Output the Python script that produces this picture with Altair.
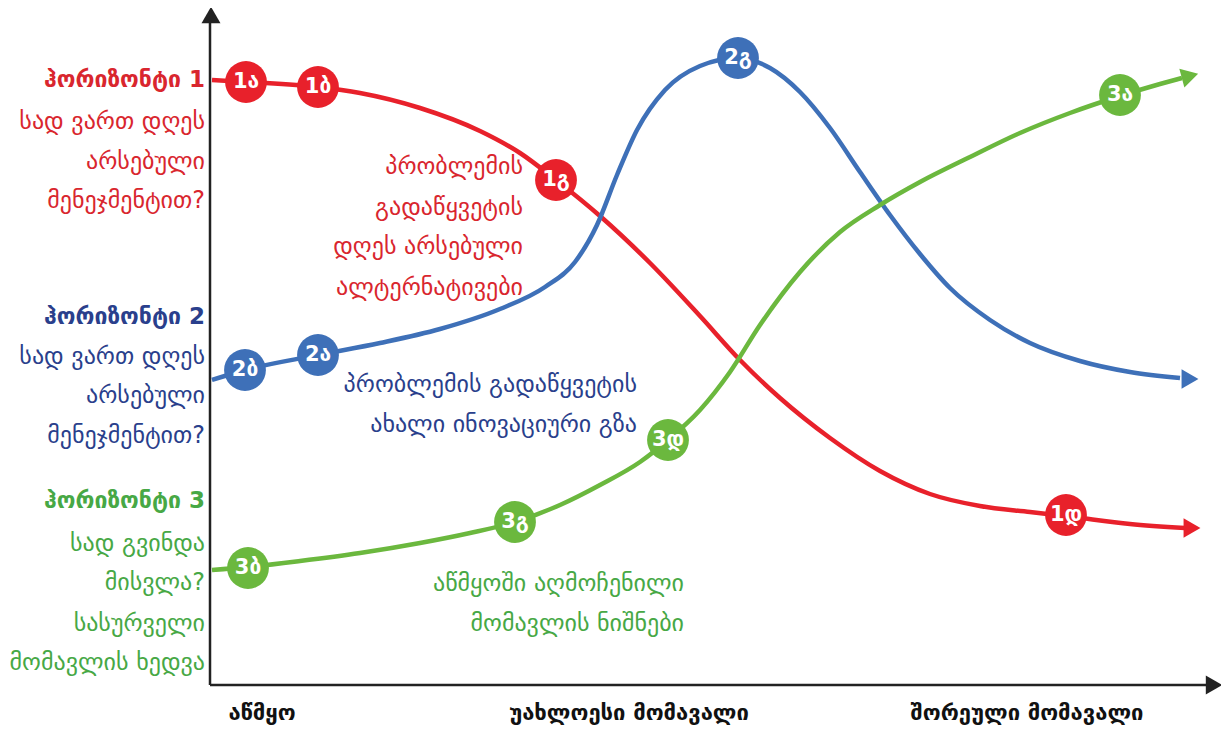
import altair as alt
import pandas as pd

# ---- data (x: time from origin, y: level above the time axis) ----
red_x = [2, 36, 108, 150, 210, 270, 310, 346, 390, 440, 490, 530, 570, 620, 670, 720, 770, 820, 856, 920, 975]
red_y = [605, 603, 598, 592, 577, 554, 532, 505, 469, 422, 369, 325, 287, 247, 214, 191, 179, 173, 169, 161, 157]
blue_x = [2, 35, 108, 170, 230, 290, 335, 365, 387, 407, 427, 455, 490, 528, 560, 590, 620, 650, 680, 710, 740, 780, 820, 870, 920, 970]
blue_y = [305, 315, 330, 342, 356, 376, 398, 423, 460, 510, 555, 595, 619, 627, 617, 593, 557, 513, 470, 431, 397, 365, 342, 324, 313, 307]
green_x = [2, 38, 90, 150, 210, 260, 305, 350, 390, 430, 458, 490, 520, 550, 590, 630, 670, 710, 760, 810, 860, 910, 950, 972]
green_y = [115, 118, 124, 132, 142, 152, 163, 180, 200, 223, 245, 275, 313, 360, 413, 453, 480, 503, 528, 552, 572, 589, 601, 607]

series_names = ["red", "blue", "green"]
series_colors = ["#E8212B", "#3E70B8", "#6BB83E"]
text_colors = ["#D9262E", "#2A3F8C", "#47A845"]

arrow_x = [982, 980, 980]
arrow_y = [157, 306, 609]
arrow_angle = [0, 0, 345]

node_labels = ["1ა", "1ბ", "1გ", "1დ", "2ბ", "2ა", "2გ", "3ბ", "3გ", "3დ", "3ა"]
node_series = ["red", "red", "red", "red", "blue", "blue", "blue", "green", "green", "green", "green"]
node_x = [36, 108, 346, 856, 35, 108, 528, 38, 305, 458, 910]
node_y = [603, 598, 505, 170, 315, 330, 627, 117, 163, 245, 590]

left_text = ["ჰორიზონტი 1", "სად ვართ დღეს", "არსებული", "მენეჯმენტით?",
             "ჰორიზონტი 2", "სად ვართ დღეს", "არსებული", "მენეჯმენტით?",
             "ჰორიზონტი 3", "სად გვინდა", "მისვლა?", "სასურველი", "მომავლის ხედვა"]
left_y = [605, 563, 523, 484, 368, 328, 289, 249, 184, 141, 102, 61, 22]
left_series = ["red"] * 4 + ["blue"] * 4 + ["green"] * 5
left_bold = [True, False, False, False, True, False, False, False, True, False, False, False, False]

mid_text = ["პრობლემის", "გადაწყვეტის", "დღეს არსებული", "ალტერნატივები",
            "პრობლემის გადაწყვეტის", "ახალი ინოვაციური გზა",
            "აწმყოში აღმოჩენილი", "მომავლის ნიშნები"]
mid_x = [313, 313, 313, 313, 427, 427, 474, 474]
mid_y = [518, 477, 438, 397, 300, 260, 101, 61]
mid_series = ["red"] * 4 + ["blue"] * 2 + ["green"] * 2

time_labels = ["აწმყო", "უახლოესი მომავალი", "შორეული მომავალი"]
time_x = [52, 419, 817]

# ---- tables ----
rows = []
for name, xs, ys in [("red", red_x, red_y), ("blue", blue_x, blue_y), ("green", green_x, green_y)]:
    for i, (a, b) in enumerate(zip(xs, ys)):
        rows.append({"s": name, "i": i, "x": a, "y": b})
lines_df = pd.DataFrame(rows)
arrows_df = pd.DataFrame({"s": series_names, "x": arrow_x, "y": arrow_y, "a": arrow_angle})
nodes_df = pd.DataFrame({"s": node_series, "t": node_labels, "x": node_x, "y": node_y})
left_df = pd.DataFrame({"s": left_series, "t": left_text, "y": left_y, "b": left_bold})
left_df["x"] = -5
mid_df = pd.DataFrame({"s": mid_series, "t": mid_text, "x": mid_x, "y": mid_y})
time_df = pd.DataFrame({"t": time_labels, "x": time_x})
time_df["y"] = -28

xs = alt.Scale(domain=[-202, 1011])
ys = alt.Scale(domain=[-46, 677])
X = alt.X("x:Q", scale=xs, axis=None)
Y = alt.Y("y:Q", scale=ys, axis=None)
col = alt.Color("s:N", scale=alt.Scale(domain=series_names, range=series_colors), legend=None)
tcol = alt.Color("s:N", scale=alt.Scale(domain=series_names, range=text_colors), legend=None)

FONT = "DejaVu Sans"

axis_df = pd.DataFrame({"x": [0, 0], "y": [0, 0], "x2": [0, 1000], "y2": [662, 0]})
axes = alt.Chart(axis_df).mark_rule(color="#222222", strokeWidth=2.5).encode(
    x=X, y=Y, x2="x2:Q", y2="y2:Q")
axis_heads = alt.Chart(pd.DataFrame({"x": [1, 1004], "y": [670, 0], "sh": ["triangle-up", "triangle-right"]})).mark_point(
    filled=True, color="#222222", size=360, opacity=1).encode(
    x=X, y=Y, shape=alt.Shape("sh:N", scale=None))

lines = alt.Chart(lines_df).mark_line(interpolate="monotone", strokeWidth=4.5).encode(
    x=X, y=Y, color=col, order="i:Q")
heads = alt.Chart(arrows_df).mark_point(shape="triangle-right", filled=True, size=380, opacity=1).encode(
    x=X, y=Y, color=col, angle=alt.Angle("a:Q", scale=None))
circles = alt.Chart(nodes_df).mark_circle(size=1750, opacity=1).encode(x=X, y=Y, color=col)
circle_text = alt.Chart(nodes_df).mark_text(font=FONT, fontSize=21, fontWeight="bold", color="white").encode(
    x=X, y=Y, text="t:N")

left_bold_t = alt.Chart(left_df[left_df["b"]]).mark_text(
    font=FONT, fontSize=23, fontWeight="bold", align="right", baseline="middle").encode(
    x=X, y=Y, text="t:N", color=tcol)
left_norm_t = alt.Chart(left_df[~left_df["b"]]).mark_text(
    font=FONT, fontSize=24, align="right", baseline="middle").encode(
    x=X, y=Y, text="t:N", color=tcol)
mid_t = alt.Chart(mid_df).mark_text(font=FONT, fontSize=24, align="right", baseline="middle").encode(
    x=X, y=Y, text="t:N", color=tcol)
time_t = alt.Chart(time_df).mark_text(font=FONT, fontSize=22, fontWeight="bold",
                                      color="#111111", baseline="middle").encode(x=X, y=Y, text="t:N")

chart = alt.layer(axes, axis_heads, lines, heads, circles, circle_text,
                  left_bold_t, left_norm_t, mid_t, time_t).properties(
    width=1213, height=723, autosize=alt.AutoSizeParams(type="none"), padding=0
).configure_view(stroke=None).resolve_scale(color="independent")

chart.save("out.html", embed_options={"renderer": "svg", "actions": False})
